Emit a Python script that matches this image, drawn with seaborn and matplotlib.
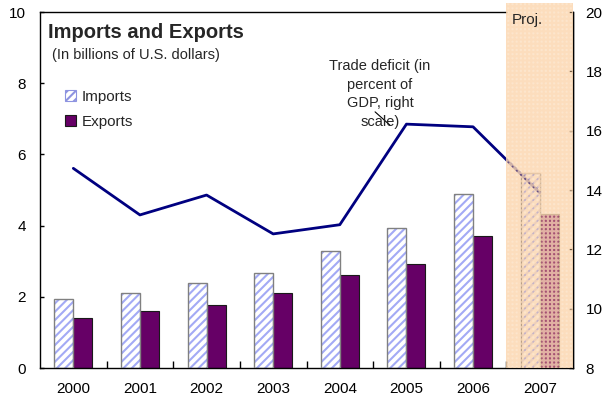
import numpy as np
import pandas as pd
import matplotlib
matplotlib.use("Agg")
import matplotlib.pyplot as plt
import matplotlib.transforms as mtransforms
from matplotlib.patches import Rectangle
import seaborn as sns

# ---- data -------------------------------------------------------------
years = ["2000", "2001", "2002", "2003", "2004", "2005", "2006", "2007"]
imports = [1.94, 2.12, 2.38, 2.68, 3.28, 3.93, 4.88, 5.49]
exports = [1.40, 1.59, 1.78, 2.10, 2.60, 2.92, 3.71, 4.33]
trade_deficit = [14.73, 13.16, 13.83, 12.52, 12.83, 16.22, 16.13, 13.91]
left_ticks = [0, 2, 4, 6, 8, 10]
right_ticks = [8, 10, 12, 14, 16, 18, 20]
proj_year = "2007"

# ---- style ------------------------------------------------------------
sns.set_theme(style="white")
plt.rcParams["font.family"] = ["Liberation Sans", "DejaVu Sans"]
plt.rcParams["hatch.linewidth"] = 1.5

W, H = 603, 404
fig = plt.figure(figsize=(W / 100, H / 100), dpi=100)
ax = fig.add_axes([40 / W, 1 - 368 / H, 533 / W, 356 / H])

n = len(years)
idx = years.index(proj_year)
df = pd.DataFrame({
    "year": years * 2,
    "value": imports + exports,
    "series": ["Imports"] * n + ["Exports"] * n,
})

sns.barplot(data=df, x="year", y="value", hue="series",
            hue_order=["Imports", "Exports"],
            palette={"Imports": "white", "Exports": "#660066"},
            width=0.57, gap=0, saturation=1, errorbar=None,
            legend=False, ax=ax)

# imports: white bars with light blue diagonal hatch and grey outline
for p in ax.containers[0]:
    p.set_hatch("////")
    p.set_edgecolor("#a3aaf5")
    p.set_linewidth(0)
    ax.add_patch(Rectangle(p.get_xy(), p.get_width(), p.get_height(),
                           fill=False, edgecolor="#808080", lw=1.0, zorder=3))
# exports: solid purple
for p in ax.containers[1]:
    p.set_edgecolor("#1a1a1a")
    p.set_linewidth(0.8)

ax.set_xlim(-0.5, n - 0.5)
ax.set_ylim(left_ticks[0], left_ticks[-1])
ax.set_yticks(left_ticks)
ax.set_xticks(range(n))
ax.set_xticklabels(years)
ax.set_xticks(np.arange(n - 1) + 0.5, minor=True)
ax.set_xlabel("")
ax.set_ylabel("")
ax.tick_params(axis="y", left=True, direction="in", length=3, width=1,
               pad=10, labelsize=11, colors="black")
ax.tick_params(axis="x", which="major", bottom=True, length=0, pad=10,
               labelsize=11, colors="black")
ax.tick_params(axis="x", which="minor", bottom=True, direction="in",
               length=5, width=1, color="black")
for s in ax.spines.values():
    s.set_color("black")
    s.set_linewidth(1)
# the top border stops where the projection band begins
ax.spines["top"].set_bounds(-0.5, idx - 0.5)

# trade deficit on the right-hand scale
ax2 = ax.twinx()
sns.lineplot(x=np.arange(n), y=trade_deficit, color="#000080", lw=2, ax=ax2)
ax2.set_ylim(right_ticks[0], right_ticks[-1])
ax2.set_yticks(right_ticks)
ax2.set_ylabel("")
ax2.tick_params(axis="y", right=True, direction="in", length=3, width=1,
                pad=9, labelsize=11, colors="black")
for name, s in ax2.spines.items():
    s.set_color("black")
    s.set_linewidth(1)
    if name != "right":
        s.set_visible(False)

# projection shading
trans = mtransforms.blended_transform_factory(ax2.transData, ax2.transAxes)
ax2.add_patch(Rectangle((idx - 0.5, 0), 1, 1.026, transform=trans,
                        facecolor=(0.98, 0.76, 0.53, 0.42), edgecolor="none",
                        zorder=10, clip_on=False))
ax2.add_patch(Rectangle((idx - 0.5, 0), 1, 1.026, transform=trans,
                        fill=False, hatch="++++",
                        edgecolor=(0.99, 0.86, 0.72, 0.7), lw=0,
                        zorder=11, clip_on=False))
fig.text(512 / W, 1 - 20 / H, "Proj.", fontsize=11, va="center",
         ha="left", zorder=12)

# titles
fig.text(48 / W, 1 - 38 / H, "Imports and Exports", fontsize=14.5,
         fontweight="bold", va="baseline", ha="left")
fig.text(52 / W, 1 - 59 / H, "(In billions of U.S. dollars)", fontsize=10.5,
         va="baseline", ha="left")

# legend
handles = [ax.containers[0][0], ax.containers[1][0]]
leg = ax.legend(handles, ["Imports", "Exports"], loc="upper left",
                bbox_to_anchor=(65 / W, 1 - 90 / H),
                bbox_transform=fig.transFigure, frameon=False,
                fontsize=11, handlelength=0.75, handleheight=0.75,
                handletextpad=0.35, labelspacing=0.72, borderpad=0,
                borderaxespad=0)
leg.legend_handles[0].set_edgecolor("#8d93e0")
leg.legend_handles[0].set_linewidth(0.8)

# line annotation
fig.text(380 / W, 1 - 94 / H, "Trade deficit (in\npercent of\nGDP, right\nscale)",
         fontsize=10.5, ha="center", va="center", multialignment="center",
         linespacing=1.45)
ax2.annotate("", xy=(392 / W, 1 - 127 / H), xycoords="figure fraction",
             xytext=(373 / W, 1 - 110 / H), textcoords="figure fraction",
             arrowprops=dict(arrowstyle="-", lw=0.8, color="black"))

fig.savefig("out.png", dpi=100)
